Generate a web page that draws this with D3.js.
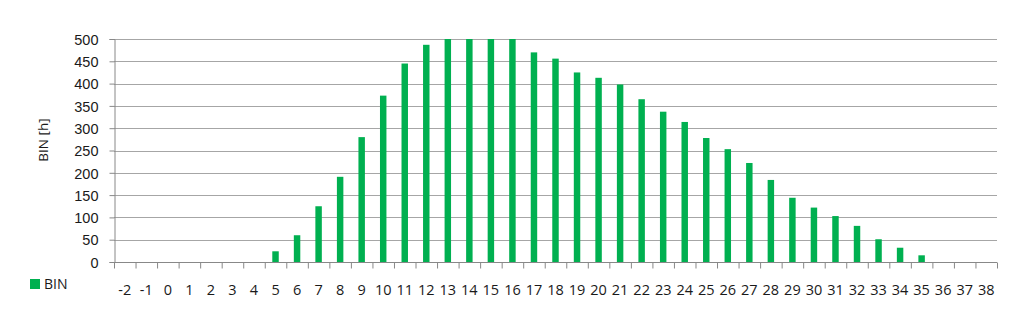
<!DOCTYPE html>
<html>
<head>
<meta charset="utf-8">
<script src="https://cdn.jsdelivr.net/npm/d3@7"></script>
<style>
  html, body { margin: 0; background: #fff; overflow: hidden; }
  svg { display: block; font-family: "Open Sans", "Noto Sans", sans-serif; }
  .tick text { fill: #1a1a1a; font-size: 14.5px; }
</style>
</head>
<body>
<div id="chart"></div>
<script>
const categories = d3.range(-2, 39);
const binValues = [0, 0, 0, 0, 0, 0, 0, 24, 60, 125, 191, 280, 373, 445, 487, 500, 500, 500, 500, 470, 456, 425, 413, 398, 365, 337, 314, 278, 253, 222, 184, 144, 122, 103, 81, 51, 32, 15, 0, 0, 0];
const yTicks = [0, 50, 100, 150, 200, 250, 300, 350, 400, 450, 500];

const width = 1030, height = 333;
const margin = { top: 39, right: 33, bottom: 71, left: 114 };
const innerWidth = width - margin.left - margin.right;
const innerHeight = height - margin.top - margin.bottom;

const data = categories.map((c, i) => ({ cat: c, value: binValues[i] }));

const svg = d3.select('#chart')
    .append('svg')
    .attr('width', width)
    .attr('height', height);

const inner = svg.append('g')
    .attr('transform', `translate(${margin.left},${margin.top})`);

const xScale = d3.scaleBand()
    .domain(categories)
    .range([0, innerWidth])
    .paddingInner(0.7)
    .paddingOuter(0.35);

const yScale = d3.scaleLinear()
    .domain([0, 500])
    .range([innerHeight, 0]);

// gridlines
inner.selectAll('.grid')
    .data(yTicks.slice(1))
    .join('line')
        .attr('x1', 0)
        .attr('x2', innerWidth)
        .attr('y1', d => Math.round(yScale(d)) + 0.5)
        .attr('y2', d => Math.round(yScale(d)) + 0.5)
        .attr('stroke', '#a6a6a6')
        .attr('stroke-width', 1);

// bars
inner.selectAll('rect')
    .data(data)
    .join('rect')
        .attr('x', d => xScale(d.cat))
        .attr('y', d => yScale(d.value))
        .attr('width', xScale.bandwidth())
        .attr('height', d => innerHeight - yScale(d.value))
        .attr('fill', '#00b050');

// y axis
const leftAxis = d3.axisLeft(yScale)
    .tickValues(yTicks)
    .tickSize(5)
    .tickPadding(11);

const yAxisG = inner.append('g')
    .attr('transform', 'translate(0.5,0)')
    .call(leftAxis);
yAxisG.select('.domain').attr('stroke', '#888');
yAxisG.selectAll('.tick line').attr('stroke', '#888');
yAxisG.selectAll('.tick text').attr('dy', '0.36em');

// x axis, ticks at category boundaries
const xLineScale = d3.scaleLinear()
    .domain([0, categories.length])
    .range([0, innerWidth]);

const bottomAxis = d3.axisBottom(xLineScale)
    .tickValues(d3.range(0, categories.length + 1))
    .tickSize(6)
    .tickFormat('');

const xAxisG = inner.append('g')
    .attr('transform', `translate(0,${Math.round(innerHeight) + 0.5})`)
    .call(bottomAxis);
xAxisG.select('.domain').attr('stroke', '#888').attr('d', `M0,0H${innerWidth}`);
xAxisG.selectAll('.tick line').attr('stroke', '#888');

// x labels
inner.append('g')
    .selectAll('text')
    .data(categories)
    .join('text')
        .attr('x', d => xScale(d) + xScale.bandwidth() / 2)
        .attr('y', innerHeight + 33)
        .attr('text-anchor', 'middle')
        .attr('fill', '#1a1a1a')
        .attr('font-size', '14.5px')
        .text(d => d);

// y axis title
svg.append('text')
    .text('BIN [h]')
    .attr('text-anchor', 'middle')
    .attr('transform', 'rotate(-90)')
    .attr('x', -140)
    .attr('y', 48)
    .attr('fill', '#1a1a1a')
    .attr('font-size', '13.5px');

// legend
const legendG = svg.append('g')
    .attr('transform', 'translate(30,279)');
legendG.append('rect')
    .attr('width', 10)
    .attr('height', 10)
    .attr('fill', '#00b050');
legendG.append('text')
    .attr('x', 14)
    .attr('y', 10)
    .attr('fill', '#1a1a1a')
    .attr('font-size', '14px')
    .text('BIN');
</script>
</body>
</html>
